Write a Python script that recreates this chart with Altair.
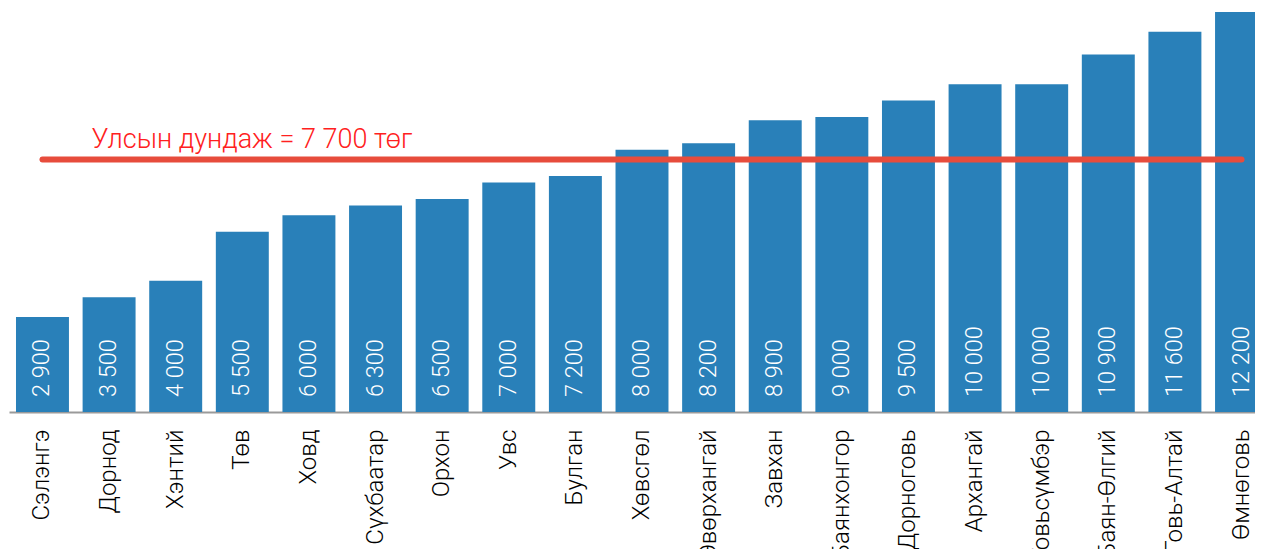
import altair as alt
import pandas as pd

aimags = ["Сэлэнгэ", "Дорнод", "Хэнтий", "Төв", "Ховд", "Сүхбаатар", "Орхон", "Увс",
          "Булган", "Хөвсгөл", "Өвөрхангай", "Завхан", "Баянхонгор", "Дорноговь",
          "Архангай", "Говьсүмбэр", "Баян-Өлгий", "Говь-Алтай", "Өмнөговь"]
values = [2900, 3500, 4000, 5500, 6000, 6300, 6500, 7000, 7200, 8000, 8200, 8900,
          9000, 9500, 10000, 10000, 10900, 11600, 12200]
labels = ["2 900", "3 500", "4 000", "5 500", "6 000", "6 300", "6 500", "7 000", "7 200",
          "8 000", "8 200", "8 900", "9 000", "9 500", "10 000", "10 000", "10 900",
          "11 600", "12 200"]
avg_value = 7700
avg_label = "Улсын дундаж = 7 700 төг"

df = pd.DataFrame({"aimag": aimags, "value": values, "label": labels})

FONT = "Roboto"

x = alt.X("aimag:N", sort=None, title=None,
          scale=alt.Scale(paddingInner=0.205, paddingOuter=0.105, range=[0, 1266]),
          axis=alt.Axis(labelAngle=-90, labelAlign="right", labelBaseline="middle",
                        labelFontSize=24, labelFont=FONT, labelFontWeight=300,
                        labelColor="#000000", labelPadding=17, ticks=False,
                        domainColor="#9a9a9a", domainWidth=2, labelOverlap=False,
                        labelLimit=0))
y = alt.Y("value:Q", title=None, scale=alt.Scale(domain=[0, 12200], nice=False),
          axis=None)

bars = alt.Chart(df).mark_bar(color="#2980b9").encode(x=x, y=y)

text = alt.Chart(df).mark_text(angle=270, align="left", baseline="middle", dx=15,
                               color="white", fontSize=23.5, font=FONT,
                               fontWeight=300).encode(
    x=alt.X("aimag:N", sort=None), y=alt.datum(0), text="label:N")

avg_df = pd.DataFrame({"start": [aimags[0]], "end": [aimags[-1]],
                       "v": [avg_value], "t": [avg_label]})

rule = alt.Chart(avg_df).mark_rule(color="#e74c3c", strokeWidth=6,
                                   strokeCap="round").encode(
    x=alt.X("start:N", sort=None), x2="end:N", y="v:Q")

avg_text = alt.Chart(avg_df).mark_text(align="left", baseline="alphabetic", dx=49,
                                       dy=-12, color="#ff2020", fontSize=27,
                                       font=FONT, fontWeight=300).encode(
    x=alt.X("start:N", sort=None), y="v:Q", text="t:N")

chart = alt.layer(bars, text, rule, avg_text).properties(
    width=1246, height=400,
    autosize=alt.AutoSizeParams(type="none"),
    padding={"left": 1, "top": 4, "right": 0, "bottom": 137},
).configure(background="white").configure_view(stroke=None)

chart.save("out.html", embed_options={"renderer": "svg", "actions": False})
